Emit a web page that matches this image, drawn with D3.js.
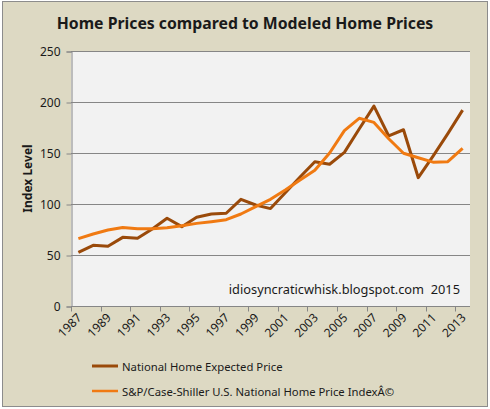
<!DOCTYPE html>
<html>
<head>
<meta charset="utf-8">
<script src="https://cdn.jsdelivr.net/npm/d3@7"></script>
<style>
  body { margin: 0; background: #fff; }
  text { font-family: "Noto Sans", sans-serif; fill: #1a1a1a; }
</style>
</head>
<body>
<svg id="chart" width="490" height="409"></svg>
<script>
var years = [1987, 1988, 1989, 1990, 1991, 1992, 1993, 1994, 1995, 1996, 1997, 1998, 1999, 2000,
             2001, 2002, 2003, 2004, 2005, 2006, 2007, 2008, 2009, 2010, 2011, 2012, 2013];
var expectedPrice = [52.6, 59.5, 58.5, 67.3, 66.4, 75.5, 86, 77.8, 87, 90.2, 90.9, 104.6, 99, 95.5,
                     111, 126.5, 141.5, 139, 150.6, 173.5, 196, 166.7, 172.8, 125.8, 147, 169, 192];
var caseShiller = [66, 70.6, 74.5, 77, 75.8, 75.8, 76.8, 78.7, 81, 82.7, 84.6, 90.2, 97.4, 104.6,
                   113.7, 123.5, 133, 150, 172, 184, 180, 164, 149.7, 145.4, 141, 141.5, 154.6];
var yTicks = [0, 50, 100, 150, 200, 250];
var seriesNames = ["National Home Expected Price", "S&P/Case-Shiller U.S. National Home Price Index\u00C2\u00A9"];
var seriesColors = ["#9a4a0a", "#f07a12"];

var svg = d3.select("#chart");
var W = 490, H = 409;
var plot = {left: 71, top: 51, right: 470, bottom: 306};

// chart background and frame
svg.append("rect").attr("x", 2.5).attr("y", 1.5).attr("width", W - 5).attr("height", H - 4)
   .attr("fill", "#ddd9c3").attr("stroke", "#8c8c8c").attr("stroke-width", 1);

svg.append("rect").attr("x", plot.left).attr("y", plot.top)
   .attr("width", plot.right - plot.left).attr("height", plot.bottom - plot.top)
   .attr("fill", "#f2f2f2");

var x = d3.scaleBand().domain(years).range([plot.left, plot.right]);
var y = d3.scaleLinear().domain([0, 250]).range([plot.bottom, plot.top]);

// gridlines
svg.append("g").selectAll("line").data(yTicks.slice(1)).enter().append("line")
   .attr("x1", plot.left).attr("x2", plot.right)
   .attr("y1", function(d) { return Math.round(y(d)) + 0.5; })
   .attr("y2", function(d) { return Math.round(y(d)) + 0.5; })
   .attr("stroke", "#868686").attr("stroke-width", 1);

// y axis
var yAxis = svg.append("g").attr("transform", "translate(" + (plot.left + 0.5) + ",0.5)")
   .call(d3.axisLeft(y).tickValues(yTicks).tickSize(5).tickPadding(6));
yAxis.select(".domain").attr("stroke", "#868686");
yAxis.selectAll(".tick line").attr("stroke", "#868686");
yAxis.selectAll("text").attr("font-size", 12).attr("fill", "#1a1a1a")
     .style("font-family", "Noto Sans, sans-serif");

// x axis: ticks on every second category boundary
var bw = x.bandwidth();
var xAxis = svg.append("g").attr("transform", "translate(0," + (plot.bottom + 0.5) + ")");
xAxis.append("line").attr("x1", plot.left).attr("x2", plot.right)
     .attr("stroke", "#868686");
var boundaries = years.filter(function(d, i) { return i % 2 === 0; });
xAxis.selectAll(".tk").data(boundaries).enter().append("line")
     .attr("x1", function(d) { return Math.round(x(d)) + 0.5; })
     .attr("x2", function(d) { return Math.round(x(d)) + 0.5; })
     .attr("y1", 0).attr("y2", 5).attr("stroke", "#868686");
xAxis.selectAll(".lbl").data(boundaries).enter().append("text")
     .attr("transform", function(d) {
       return "translate(" + (x(d) + bw / 2 + 4) + ",12) rotate(-45)";
     })
     .attr("text-anchor", "end").attr("font-size", 12).text(function(d) { return d; });

// y axis title
svg.append("text").attr("transform", "translate(32," + ((plot.top + plot.bottom) / 2) + ") rotate(-90)")
   .attr("text-anchor", "middle").attr("font-size", 12).attr("font-weight", "bold")
   .text("Index  Level");

// title
svg.append("text").attr("x", 245).attr("y", 29).attr("text-anchor", "middle")
   .attr("font-size", 15.8).attr("font-weight", "bold").text("Home Prices compared to Modeled Home Prices");

// watermark
svg.append("text").attr("x", 460).attr("y", 294).attr("text-anchor", "end")
   .attr("font-size", 12.8).attr("xml:space", "preserve")
   .text("idiosyncraticwhisk.blogspot.com  2015");

// lines
var line = d3.line().x(function(d, i) { return x(years[i]) + bw / 2; })
                    .y(function(d) { return y(d); });
[expectedPrice, caseShiller].forEach(function(series, i) {
  svg.append("path").datum(series).attr("d", line)
     .attr("fill", "none").attr("stroke", seriesColors[i]).attr("stroke-width", 3)
     .attr("stroke-linejoin", "round");
});

// legend
var legend = svg.append("g");
seriesNames.forEach(function(name, i) {
  var ly = 366 + i * 25;
  legend.append("line").attr("x1", 92).attr("x2", 118).attr("y1", ly).attr("y2", ly)
        .attr("stroke", seriesColors[i]).attr("stroke-width", i === 0 ? 3 : 2.5);
  legend.append("text").attr("x", 122).attr("y", ly + 4.5).attr("font-size", 11.3).text(name);
});
</script>
</body>
</html>
